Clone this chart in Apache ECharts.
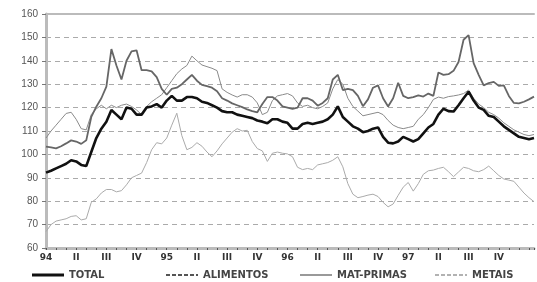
<!DOCTYPE html>
<html>
<head>
<meta charset="utf-8">
<script src="https://cdn.jsdelivr.net/npm/echarts@6/dist/echarts.min.js"></script>
<style>html,body{margin:0;padding:0;background:#fff}#c{width:537px;height:282px}</style>
</head>
<body>
<div id="c"></div>
<script>
// Semi-monthly observations, Jan 1994 - Dec 1997 (+1)
var quarterLabels = ['94','II','III','IV','95','II','III','IV','96','II','III','IV','97','II','III','IV'];
var total = [92.2,93,94,95,96,97.5,97,95.5,95,101,
107,111,114,119,117,115,120,119.5,117,117,
120,120.5,121.5,120,123,125,123,123,124.5,124.5,
124,122.5,122,121,120,118.5,118,118,117,116.5,
116,115.5,114.5,114,113.3,115,115,114,113.5,111,
111,113,113.5,113,113.5,114,115,117,120.5,116,
114,112,111,109.5,110,111,111.5,107.5,105,104.7,
105.5,107.5,106.5,105.5,106.5,109,111.5,113,117,119.5,
118.5,118.3,121,124,126.8,123,120,119,116.5,116,
114,112,110.5,109,107.5,107,106.5,107];
var alimentos = [103.3,103,102.6,103.5,104.7,106,105.5,104.5,106,116,
120.4,124,129,145,138,132,140,144,144.5,136,
136,135.5,133,128,125.5,128,128.5,130,132,134,
131.5,129.7,129.2,128.5,127,124,123,121.8,121,120.2,
119.2,118.5,118,121.5,124.5,124.5,123,120.5,120,119.5,
120,124,124,123,120.8,122,124,132,134,127.5,
128,127.5,125,120.6,123.5,128.5,129.5,124,120.5,124,
130.6,125,124,124.5,125.2,124.7,126,125,135,134,
134.3,135.7,139.5,149,151,139,134,129.5,130.5,131,
129.3,129.5,125,122,121.8,122.5,123.5,124.7];
var matPrimas = [107,110,112.5,115,117.5,118,115,111,110.5,117,
119.5,121,119.5,121,120,121,121.5,120.5,119,117,
120.5,122.5,124,125.5,128.5,131.5,134.5,136.5,138,142,
140,138.2,137.5,136.8,135.8,128,126.5,125.4,124.5,125.5,
125.5,124.5,122,117,118,123,125,125.5,126,125,
122,120.5,121,120,119.5,120.5,122,128,132,130,
124,120.5,118.5,116.5,117,117.5,118,117,114.5,112.5,
111.5,111,111.5,112,115,117,120,123.5,124.5,124,
124.7,125,125.4,126,127.5,124,121.5,120,118,117,
115.5,113.5,112,110.5,109.5,108.5,108,108.5];
var metais = [67,70,71.5,72,72.5,73.5,73.8,72,72.5,79.5,
81,83.5,85,85,84,84.5,87,90,91,92,
96.5,102,105,104.5,107,112.5,117.6,108,102,103,
105,103.5,101,99,101.5,104.5,107,109.5,111,110,
110.3,105.5,102.5,101.5,97,100.5,101,100.5,100.2,99,
94.5,93.5,94,93.5,95.5,96,96.5,97.5,99,94.7,
87.5,83,81.5,82,82.6,83,82,79.5,77.6,78.8,
82.5,86,88,84.3,87.5,91.5,93,93.3,94,94.5,
92.6,90.5,92.5,94.5,94,93,92.6,93.5,95,93,
91,89.5,89,88.5,86,83.5,81.5,79.8];

var categories = total.map(function(_, i){ return 'p' + i; });

var totalIcon = 'path://M0,0h32v3h-32z';
var thinIcon = 'path://M0,0h64v3h-64z';
var dashIcon = 'path://M0,0h4v2h-4z M6,0h4v2h-4z M12,0h4v2h-4z M18,0h4v2h-4z M24,0h4v2h-4z M30,0h2v2h-2z';
var thinDashIcon = 'path://M0,0h8v3h-8z M12,0h8v3h-8z M24,0h8v3h-8z M36,0h8v3h-8z M48,0h8v3h-8z M60,0h4v3h-4z';

var chart = echarts.init(document.getElementById('c'), null, {renderer:'canvas'});
var legendText = {fontSize:10, fontWeight:'bold', color:'#444', fontFamily:'DejaVu Sans, Arial, sans-serif'};
function leg(name, left, icon, h, color){
  return {
    left:left, top:265, itemWidth:32, itemHeight:h, itemGap:0,
    textStyle:legendText, selectedMode:false,
    data:[{name:name, icon:icon, itemStyle:{color:color}}]
  };
}
chart.setOption({
  animation:false,
  grid:{left:46, right:0, top:14, bottom:34},
  legend:[leg('TOTAL',27,totalIcon,3,'#111'), leg('ALIMENTOS',161,dashIcon,2,'#555'),
          leg('MAT-PRIMAS',295,thinIcon,1.5,'#777'), leg('METAIS',430,thinDashIcon,1.5,'#999')],
  xAxis:[{
    type:'category', data:categories, boundaryGap:false,
    axisLine:{lineStyle:{color:'#bbb', width:3}},
    axisTick:{interval:1, length:2, lineStyle:{color:'#555', width:1}},
    axisLabel:{
      interval:0, margin:5, fontSize:9, fontWeight:'bold', color:'#333',
      fontFamily:'DejaVu Sans, Arial, sans-serif',
      formatter:function(v, idx){ return idx % 6 === 0 ? quarterLabels[idx/6] : ''; }
    },
    splitLine:{show:false}
  },{
    type:'category', data:categories, boundaryGap:false, position:'top',
    axisLine:{lineStyle:{color:'#bbb', width:2}}, axisTick:{show:false}, axisLabel:{show:false}
  }],
  yAxis:{
    type:'value', min:60, max:160, interval:10,
    axisLine:{show:true, lineStyle:{color:'#bbb', width:3}},
    axisTick:{show:true, length:4, lineStyle:{color:'#777'}},
    axisLabel:{fontSize:10, color:'#555', margin:8, fontFamily:'Arial, Liberation Sans, sans-serif'},
    splitLine:{lineStyle:{color:'#aaa', type:[5,4], width:1}}
  },
  series:[
    {name:'TOTAL', type:'line', data:total, symbol:'none', z:5,
     lineStyle:{color:'#111', width:2.6}, itemStyle:{color:'#111'}},
    {name:'ALIMENTOS', type:'line', data:alimentos, symbol:'none', z:4,
     lineStyle:{color:'#666', width:1.8}, itemStyle:{color:'#666'}},
    {name:'MAT-PRIMAS', type:'line', data:matPrimas, symbol:'none', z:3,
     lineStyle:{color:'#8a8a8a', width:1}, itemStyle:{color:'#8a8a8a'}},
    {name:'METAIS', type:'line', data:metais, symbol:'none', z:2,
     lineStyle:{color:'#aaa', width:1}, itemStyle:{color:'#aaa'}}
  ]
});
</script>
</body>
</html>
